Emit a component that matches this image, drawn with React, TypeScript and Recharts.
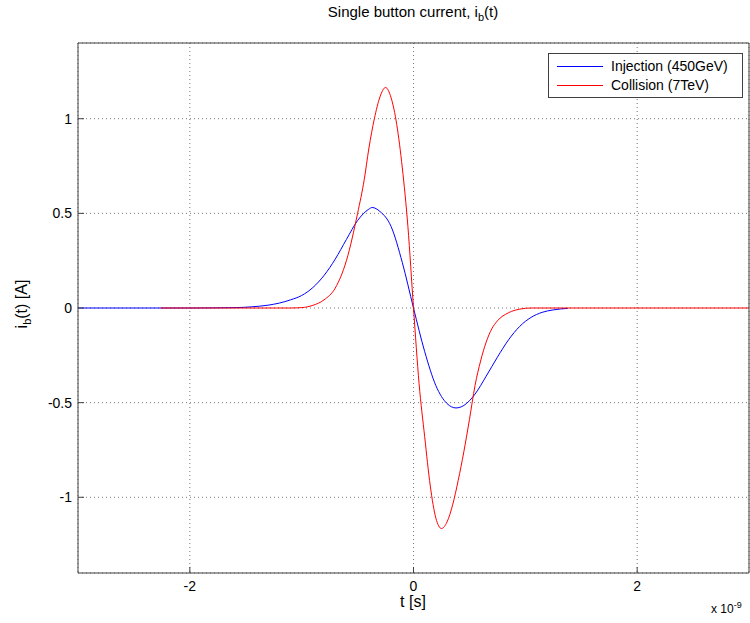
import { CartesianGrid, Line, LineChart, XAxis, YAxis } from 'recharts';

// time in ns (axis shows x 10^-9), current in A
const injT = [-3, -2, -1.6, -1.45, -1.3, -1.2, -1.1, -1.0, -0.9, -0.8, -0.7, -0.6, -0.5, -0.4, -0.37, -0.3, -0.2, -0.1, 0, 0.1, 0.2, 0.3, 0.38, 0.45, 0.55, 0.65, 0.75, 0.85, 0.95, 1.05, 1.15, 1.25, 1.38];
const injI = [0, 0, 0.002, 0.006, 0.015, 0.026, 0.043, 0.066, 0.108, 0.172, 0.258, 0.362, 0.462, 0.522, 0.531, 0.51, 0.43, 0.24, 0, -0.23, -0.41, -0.505, -0.528, -0.515, -0.455, -0.36, -0.26, -0.168, -0.097, -0.05, -0.023, -0.01, -0.002];

const colT = [-2.26, -1.1, -1.0, -0.9, -0.8, -0.7, -0.6, -0.5, -0.44, -0.4, -0.35, -0.3, -0.25, -0.2, -0.15, -0.1, -0.05, 0, 0.05, 0.1, 0.15, 0.2, 0.25, 0.3, 0.35, 0.4, 0.45, 0.5, 0.55, 0.6, 0.65, 0.7, 0.75, 0.85, 0.95, 1.05, 3];
const colI = [0, 0, 0.002, 0.014, 0.043, 0.105, 0.25, 0.5, 0.68, 0.84, 1.0, 1.115, 1.165, 1.11, 0.97, 0.74, 0.43, 0, -0.4, -0.68, -0.94, -1.11, -1.165, -1.13, -1.04, -0.91, -0.76, -0.59, -0.41, -0.28, -0.18, -0.11, -0.068, -0.025, -0.006, 0, 0];

const xTicks = [-2, 0, 2];
const yTicks = [-1, -0.5, 0, 0.5, 1];

const injection = injT.map((t, i) => ({ t, i: injI[i] }));
const collision = colT.map((t, i) => ({ t, i: colI[i] }));

const font = '"Liberation Sans", Arial, sans-serif';
const axisColor = '#404040';
const tickStyle = { fill: '#000', fontSize: 14, fontFamily: font };

export default function App() {
  return (
    <div style={{ position: 'absolute', left: 0, top: 0, width: 750, height: 623, background: '#fff', fontFamily: font }}>
      <LineChart width={750} height={623} margin={{ top: 43, right: 1, left: 38, bottom: 20 }}>
        <CartesianGrid stroke="#777" strokeDasharray="1 3" />
        <XAxis
          dataKey="t"
          type="number"
          domain={[-3, 3]}
          ticks={xTicks}
          allowDataOverflow
          height={30}
          stroke={axisColor}
          tickSize={-6}
          tickMargin={14}
          tick={tickStyle}
        />
        <XAxis
          xAxisId="top"
          orientation="top"
          type="number"
          domain={[-3, 3]}
          ticks={xTicks}
          height={1}
          mirror
          stroke={axisColor}
          tickSize={6}
          tickFormatter={() => ''}
        />
        <YAxis
          type="number"
          domain={[-1.4, 1.4]}
          ticks={yTicks}
          allowDataOverflow
          width={40}
          stroke={axisColor}
          tickSize={-6}
          tickMargin={12}
          tick={tickStyle}
        />
        <YAxis
          yAxisId="right"
          orientation="right"
          type="number"
          domain={[-1.4, 1.4]}
          ticks={yTicks}
          width={1}
          mirror
          stroke={axisColor}
          tickSize={6}
          tickFormatter={() => ''}
        />
        <Line data={injection} dataKey="i" type="monotone" stroke="#0000ff" strokeWidth={1} dot={false} isAnimationActive={false} />
        <Line data={collision} dataKey="i" type="monotone" stroke="#ff0000" strokeWidth={1} dot={false} isAnimationActive={false} />
      </LineChart>

      <div style={{ position: 'absolute', left: 0, width: 826, top: 3, textAlign: 'center', fontSize: 15 }}>
        Single button current, i<sub style={{ fontSize: 11 }}>b</sub>(t)
      </div>
      <div style={{ position: 'absolute', left: 0, width: 826, top: 593, textAlign: 'center', fontSize: 16 }}>t [s]</div>
      <div style={{ position: 'absolute', left: 711, top: 600, fontSize: 12 }}>
        x 10<sup style={{ fontSize: 9 }}>-9</sup>
      </div>
      <div
        style={{
          position: 'absolute',
          left: 23,
          top: 304,
          transform: 'translate(-50%, -50%) rotate(-90deg)',
          whiteSpace: 'nowrap',
          fontSize: 16,
        }}
      >
        i<sub style={{ fontSize: 11 }}>b</sub>(t) [A]
      </div>

      <div
        style={{
          position: 'absolute',
          left: 548,
          top: 53,
          width: 193,
          height: 43,
          border: `1px solid ${axisColor}`,
          background: '#fff',
          fontSize: 14,
        }}
      >
        {[
          { name: 'Injection (450GeV)', color: '#0000ff' },
          { name: 'Collision (7TeV)', color: '#ff0000' },
        ].map((s, k) => (
          <div key={s.name} style={{ position: 'absolute', left: 8, top: 3 + k * 19, height: 18, display: 'flex', alignItems: 'center' }}>
            <div style={{ width: 46, height: 1, background: s.color, marginRight: 8 }} />
            <span>{s.name}</span>
          </div>
        ))}
      </div>
    </div>
  );
}
